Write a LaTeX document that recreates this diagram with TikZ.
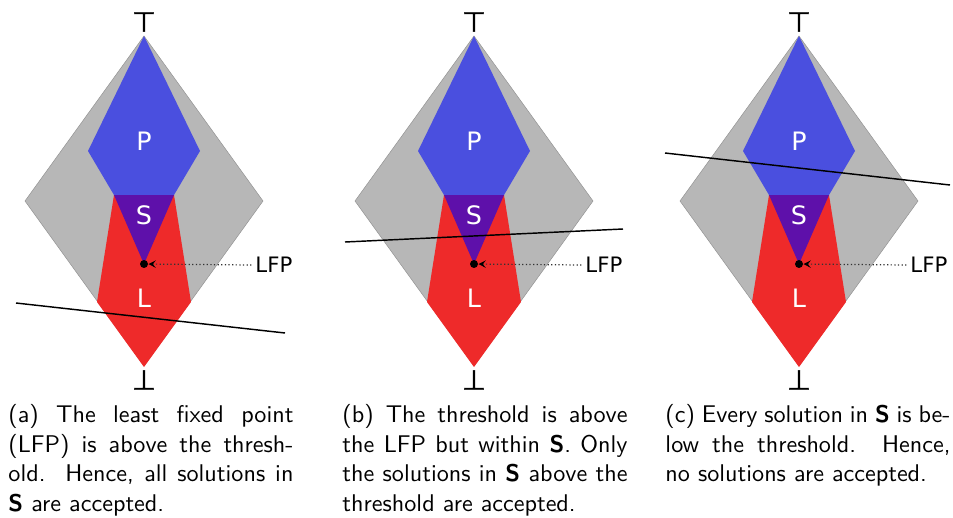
\documentclass[tikz,border=0pt]{standalone}
\usepackage{fontspec}
\newfontfamily\figfont{DejaVu Sans}
\newfontfamily\endfont[FakeBold=1.5]{DejaVu Sans}
\usetikzlibrary{arrows.meta}

\definecolor{latgray}{RGB}{183,183,183}
\definecolor{latblue}{RGB}{74,79,223}
\definecolor{latpurple}{RGB}{94,16,170}
\definecolor{latred}{RGB}{238,42,42}

\newlength\latcapw
\setlength\latcapw{118pt}
\newcommand{\capline}[1]{\makebox[\latcapw][s]{#1}}

\tikzset{
  latbg/.style={fill=latgray, draw=latgray!80!black, line width=0.2pt},
  latP/.style={fill=latblue},
  latS/.style={fill=latpurple},
  latL/.style={fill=latred},
  latlab/.style={font=\figfont\fontsize{10.5}{12}\selectfont, text=white, inner sep=0pt},
  latend/.style={font=\endfont\fontsize{11.5}{13}\selectfont, inner sep=0pt},
  latdot/.style={circle, fill=black, inner sep=0pt, minimum size=3.3pt},
  latname/.style={font=\figfont\fontsize{8.8}{10}\selectfont, inner sep=0pt, anchor=west},
  latptr/.style={densely dotted, draw=black!80, line width=0.5pt, -{Stealth[length=3pt, width=3pt, inset=1.2pt, black]}},
  latthr/.style={line width=0.6pt},
  latcap/.style={align=left, inner sep=0pt, anchor=north west, font=\sffamily\fontsize{10}{12.2}\selectfont}
}

\begin{document}
\begin{tikzpicture}[x=0.414pt, y=-0.414pt]
    \useasboundingbox (0,0) rectangle (953,517);

    \foreach \o/\n/\ta/\tb/\sa/\sb in {0/a/16/303/285/333, 330/b/15/242/293/229, 655/c/10/153/295/185} {
        \begin{scope}[shift={(\o,0)}]
            \fill[latbg] (144,36) -- (263,201) -- (144,366) -- (25,201) -- cycle;
            \fill[latP] (144,36) -- (200,151) -- (174,195) -- (114,195) -- (88,151) -- cycle;
            \fill[latL] (114,195) -- (174,195) -- (191,302) -- (144,367) -- (97,302) -- cycle;
            \fill[latS] (114,195) -- (174,195) -- (144,264) -- cycle;

            \node[latlab] (P\n) at (144,141) {P};
            \node[latlab] (S\n) at (144,215) {S};
            \node[latlab] (L\n) at (144,298) {L};
            \node[latend] (top\n) at (144,22) {⊤};
            \node[latend] (bot\n) at (144,380) {⊥};

            \node[latdot] (lfp\n) at (144,264) {};
            \node[latname] (lfpl\n) at (255,265) {LFP};
            \draw[latptr] ([xshift=-1.5pt]lfpl\n.west) -- (lfp\n);

            \coordinate (thra\n) at (\ta,\tb);
            \coordinate (thrb\n) at (\sa,\sb);
            \draw[latthr] (thra\n) -- (thrb\n);
        \end{scope}
    }

    \node[latcap] (capa) at (8,404) {\capline{(a) The least fixed point}\\
        \capline{(LFP) is above the thresh-}\\
        \capline{old.\ \ Hence, all solutions in}\\
        \textbf{S} are accepted.};
    \node[latcap] (capb) at (342,404) {\capline{(b) The threshold is above}\\
        \capline{the LFP but within \textbf{S}. Only}\\
        \capline{the solutions in \textbf{S} above the}\\
        threshold are accepted.};
    \node[latcap] (capc) at (665,404) {\capline{(c) Every solution in \textbf{S} is be-}\\
        \capline{low the threshold.\ \ Hence,}\\
        no solutions are accepted.};
\end{tikzpicture}
\end{document}
